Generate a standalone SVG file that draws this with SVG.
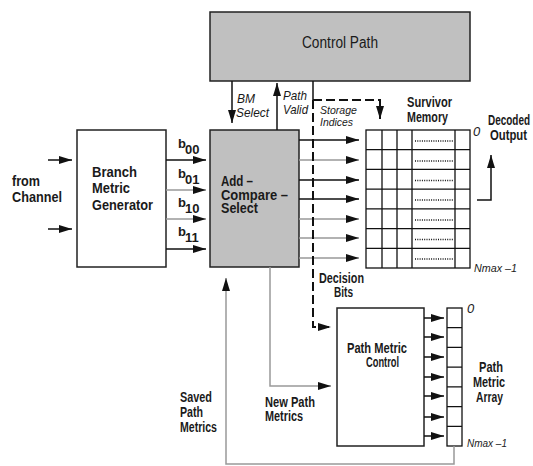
<svg xmlns="http://www.w3.org/2000/svg" width="533" height="466" viewBox="0 0 533 466">
<style>
.t{font-family:"Liberation Sans",Arial,sans-serif;font-weight:bold;font-size:14px;fill:#1a1a1a}
.i{font-family:"Liberation Sans",Arial,sans-serif;font-style:italic;font-size:13px;fill:#1a1a1a}
.s{font-size:11px}
.box{stroke:#222;stroke-width:1.5}
.ln{fill:none;stroke:#111;stroke-width:1.5}
.gr{fill:none;stroke:#999;stroke-width:1.5}
.grid{fill:none;stroke:#111;stroke-width:1.3}
.dash{fill:none;stroke:#111;stroke-width:2;stroke-dasharray:9,4}
</style>
<defs>
<marker id="a" viewBox="0 0 13 8" refX="13" refY="4" markerWidth="13" markerHeight="8" markerUnits="userSpaceOnUse" orient="auto"><path d="M0,0L13,4L0,8z" fill="#111"/></marker>
</defs>
<rect width="533" height="466" fill="#fff"/>

<g id="control-path">
<rect class="box" x="210" y="12" width="260" height="69" fill="#c0c0c0"/>
<text x="302" y="48" textLength="76" lengthAdjust="spacingAndGlyphs" style="font-family:'Liberation Sans',Arial,sans-serif;font-size:16px;fill:#1a1a1a">Control Path</text>
</g>

<g id="branch-metric-generator">
<rect class="box" x="77" y="130" width="89" height="137" fill="#fff"/>
<text class="t" x="92" y="177" textLength="45" lengthAdjust="spacingAndGlyphs">Branch</text>
<text class="t" x="92" y="193" textLength="38" lengthAdjust="spacingAndGlyphs">Metric</text>
<text class="t" x="92" y="210" textLength="61" lengthAdjust="spacingAndGlyphs">Generator</text>
</g>

<g id="acs">
<rect class="box" x="210" y="130" width="89" height="137" fill="#c0c0c0"/>
<text class="t" x="221" y="186" textLength="32" lengthAdjust="spacingAndGlyphs">Add –</text>
<text class="t" x="221" y="200" textLength="67" lengthAdjust="spacingAndGlyphs">Compare –</text>
<text class="t" x="221" y="213" textLength="37" lengthAdjust="spacingAndGlyphs">Select</text>
</g>

<g id="survivor-memory">
<rect class="grid" x="366" y="130" width="104" height="138"/>
<path class="grid" d="M382,130V268M397,130V268M412,130V268M455,130V268M366,149.7H470M366,169.4H470M366,189.1H470M366,208.9H470M366,228.6H470M366,248.3H470"/>
<path d="M415,141H453M415,161H453M415,180.5H453M415,200H453M415,220H453M415,239.5H453M415,259H453" stroke="#111" stroke-width="1.3" stroke-dasharray="1,1.3" fill="none"/>
<text class="t" x="407" y="107" textLength="45" lengthAdjust="spacingAndGlyphs">Survivor</text>
<text class="t" x="407" y="122" textLength="41" lengthAdjust="spacingAndGlyphs">Memory</text>
<text class="i" x="473" y="136">0</text>
<text class="i s" x="474" y="272" textLength="43" lengthAdjust="spacingAndGlyphs">Nmax –1</text>
</g>

<g id="path-metric-control">
<rect class="box" x="337" y="308" width="87" height="138" fill="#fff"/>
<text class="t" x="347" y="353" textLength="60" lengthAdjust="spacingAndGlyphs">Path Metric</text>
<text class="t" x="366" y="367" textLength="33" lengthAdjust="spacingAndGlyphs">Control</text>
</g>

<g id="path-metric-array">
<rect class="grid" x="447" y="308" width="15" height="138"/>
<path class="grid" d="M447,327.7H462M447,347.4H462M447,367.1H462M447,386.9H462M447,406.6H462M447,426.3H462"/>
<text class="i" x="467" y="313">0</text>
<text class="i s" x="467" y="447" textLength="40" lengthAdjust="spacingAndGlyphs">Nmax –1</text>
<text class="t" x="479" y="372" textLength="24" lengthAdjust="spacingAndGlyphs">Path</text>
<text class="t" x="473" y="387" textLength="32" lengthAdjust="spacingAndGlyphs">Metric</text>
<text class="t" x="476" y="402" textLength="27" lengthAdjust="spacingAndGlyphs">Array</text>
</g>

<g id="connectors">
<path class="ln" d="M48,160H72" marker-end="url(#a)"/>
<path class="ln" d="M48,229H72" marker-end="url(#a)"/>
<path class="ln" d="M166,160H206" marker-end="url(#a)"/>
<path class="gr" d="M166,190H206" marker-end="url(#a)"/>
<path class="gr" d="M166,219H206" marker-end="url(#a)"/>
<path class="ln" d="M166,249H206" marker-end="url(#a)"/>
<path class="ln" d="M232,81V123" marker-end="url(#a)"/>
<path class="ln" d="M277,130V83" marker-end="url(#a)"/>
<path class="ln" d="M299,140H359" marker-end="url(#a)"/>
<path class="gr" d="M299,160H359" marker-end="url(#a)"/>
<path class="ln" d="M299,180H359" marker-end="url(#a)"/>
<path class="ln" d="M299,199H359" marker-end="url(#a)"/>
<path class="gr" d="M299,219H359" marker-end="url(#a)"/>
<path class="gr" d="M299,238H359" marker-end="url(#a)"/>
<path class="gr" d="M299,258H359" marker-end="url(#a)"/>
<path class="ln" d="M313,81V100"/>
<path class="dash" d="M313,100H380V119" marker-end="url(#a)"/>
<path class="dash" d="M313,100V327H331" marker-end="url(#a)"/>
<path class="ln" d="M477,200H491V155" marker-end="url(#a)"/>
<path class="gr" d="M270,267V386H331" marker-end="url(#a)"/>
<path class="ln" d="M424,318H444" marker-end="url(#a)"/>
<path class="ln" d="M424,337H444" marker-end="url(#a)"/>
<path class="ln" d="M424,357H444" marker-end="url(#a)"/>
<path class="ln" d="M424,377H444" marker-end="url(#a)"/>
<path class="ln" d="M424,396H444" marker-end="url(#a)"/>
<path class="ln" d="M424,417H444" marker-end="url(#a)"/>
<path class="ln" d="M424,436H444" marker-end="url(#a)"/>
<path class="gr" d="M454,446V464H226V278" marker-end="url(#a)"/>
</g>

<g id="labels">
<text class="t" x="12" y="186" textLength="28" lengthAdjust="spacingAndGlyphs">from</text>
<text class="t" x="12" y="202" textLength="50" lengthAdjust="spacingAndGlyphs">Channel</text>
<text class="t" x="178" y="148" style="font-size:13px">b<tspan x="185" y="154">00</tspan></text>
<text class="t" x="178" y="178" style="font-size:13px">b<tspan x="185" y="184">01</tspan></text>
<text class="t" x="178" y="207" style="font-size:13px">b<tspan x="185" y="213">10</tspan></text>
<text class="t" x="178" y="236" style="font-size:13px">b<tspan x="185" y="242">11</tspan></text>
<text class="i" x="237" y="103" textLength="18" lengthAdjust="spacingAndGlyphs">BM</text>
<text class="i" x="236" y="117" textLength="33" lengthAdjust="spacingAndGlyphs">Select</text>
<text class="i" x="283" y="100" textLength="24" lengthAdjust="spacingAndGlyphs">Path</text>
<text class="i" x="283" y="114" textLength="25" lengthAdjust="spacingAndGlyphs">Valid</text>
<text class="i s" x="320" y="114" textLength="37" lengthAdjust="spacingAndGlyphs">Storage</text>
<text class="i s" x="320" y="126" textLength="33" lengthAdjust="spacingAndGlyphs">Indices</text>
<text class="t" x="488" y="125" textLength="42" lengthAdjust="spacingAndGlyphs">Decoded</text>
<text class="t" x="490" y="140" textLength="37" lengthAdjust="spacingAndGlyphs">Output</text>
<text class="t" x="319" y="283" textLength="45" lengthAdjust="spacingAndGlyphs">Decision</text>
<text class="t" x="334" y="297" textLength="19" lengthAdjust="spacingAndGlyphs">Bits</text>
<text class="t" x="265" y="407" textLength="50" lengthAdjust="spacingAndGlyphs">New Path</text>
<text class="t" x="265" y="421" textLength="38" lengthAdjust="spacingAndGlyphs">Metrics</text>
<text class="t" x="180" y="402" textLength="32" lengthAdjust="spacingAndGlyphs">Saved</text>
<text class="t" x="180" y="417" textLength="23" lengthAdjust="spacingAndGlyphs">Path</text>
<text class="t" x="180" y="432" textLength="37" lengthAdjust="spacingAndGlyphs">Metrics</text>
</g>
</svg>
